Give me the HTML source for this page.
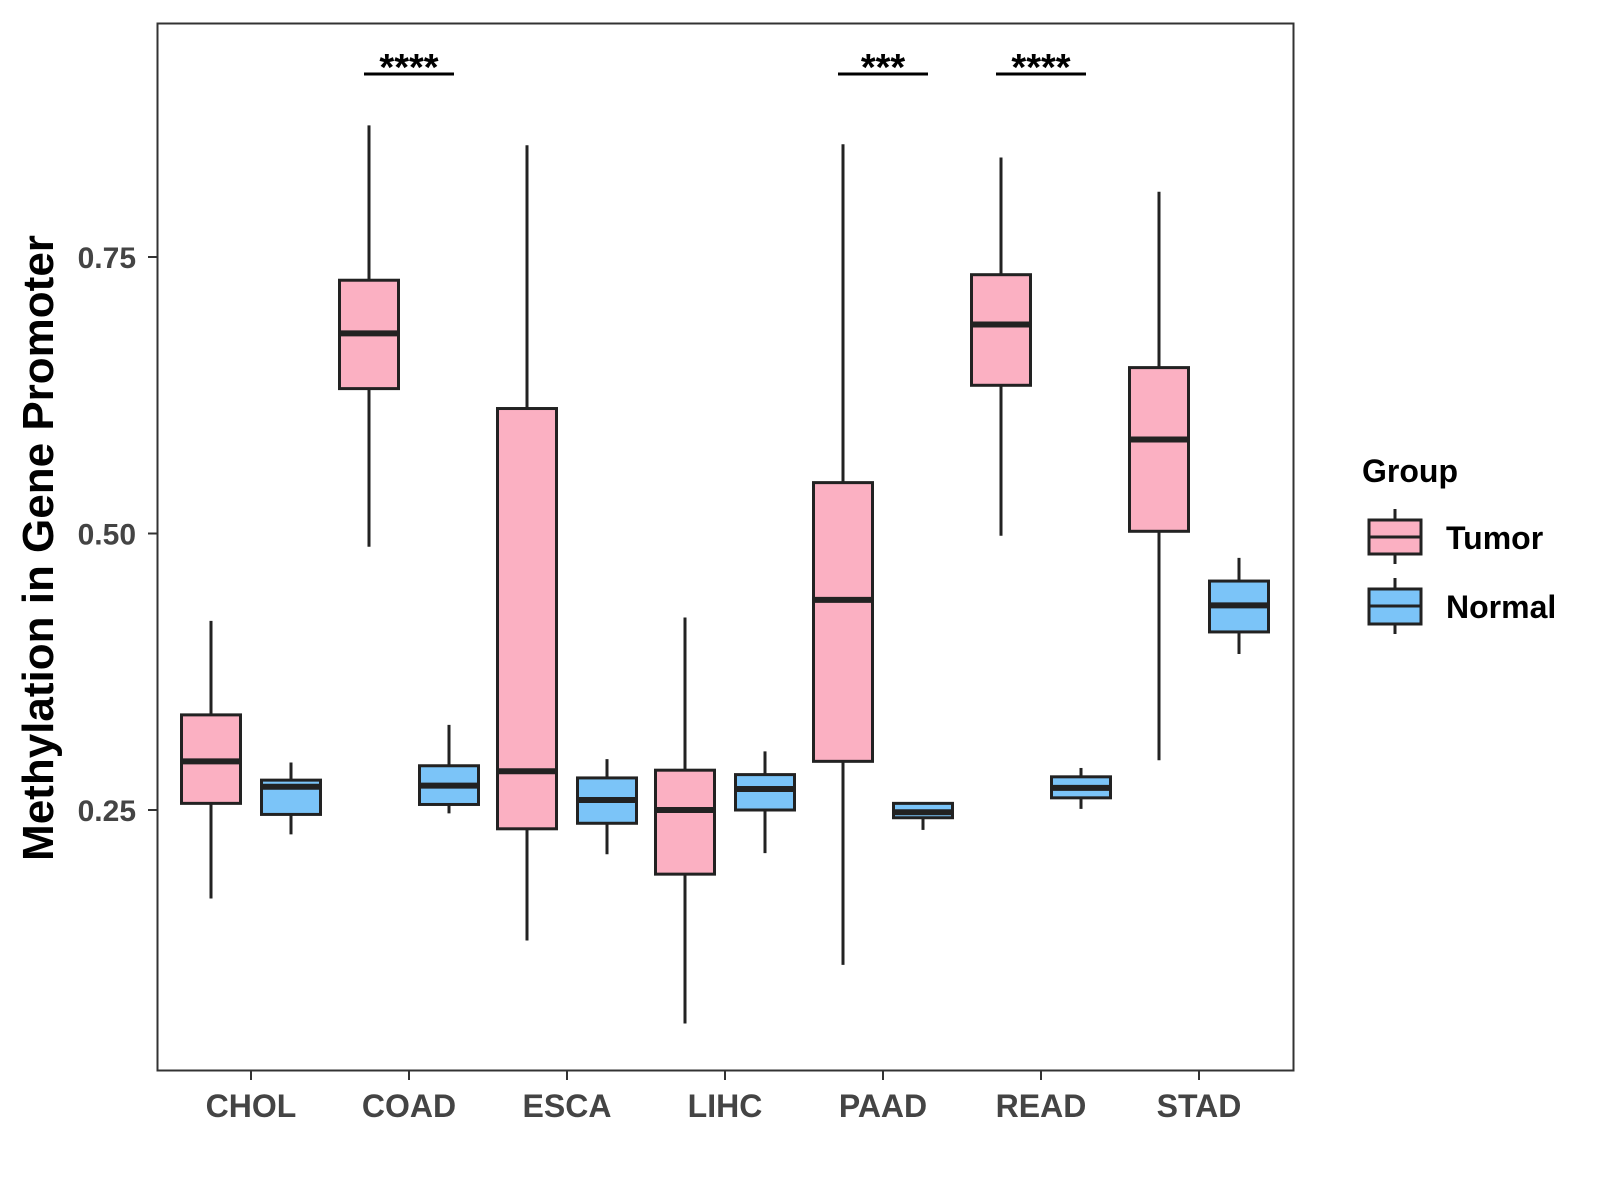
<!DOCTYPE html>
<html><head><meta charset="utf-8"><style>
html,body{margin:0;padding:0;background:#fff;}
svg{display:block;font-family:"Liberation Sans",Arial,sans-serif;}
</style></head><body>
<svg id="chart" width="1600" height="1200" viewBox="0 0 1600 1200">
<rect x="0" y="0" width="1600" height="1200" fill="#fff"/>
<g id="plot"></g>
<rect x="157.5" y="23.5" width="1136" height="1047" fill="none" stroke="#333" stroke-width="2"/>
<text transform="translate(53,548) rotate(-90)" text-anchor="middle" font-size="44" font-weight="bold" fill="#000">Methylation in Gene Promoter</text>
<g>
<text x="1362" y="482" font-size="32" font-weight="bold" fill="#000">Group</text>
<g>
<line x1="1395" y1="509" x2="1395" y2="564" stroke="#222" stroke-width="3"/>
<rect x="1369" y="520" width="52" height="34" fill="#FBB0C2" stroke="#222" stroke-width="3"/>
<line x1="1369" y1="537" x2="1421" y2="537" stroke="#222" stroke-width="3"/>
<text x="1446" y="549" font-size="32" font-weight="bold" fill="#000">Tumor</text>
</g>
<g>
<line x1="1395" y1="578" x2="1395" y2="634" stroke="#222" stroke-width="3"/>
<rect x="1369" y="589" width="52" height="35" fill="#7BC4F8" stroke="#222" stroke-width="3"/>
<line x1="1369" y1="606" x2="1421" y2="606" stroke="#222" stroke-width="3"/>
<text x="1446" y="618" font-size="32" font-weight="bold" fill="#000">Normal</text>
</g>
</g>
</svg>
<script>
const categories = ["CHOL","COAD","ESCA","LIHC","PAAD","READ","STAD"];
// [lowWhisker, q1, median, q3, highWhisker]
const tumorStats = [
 [0.170,0.256,0.294,0.336,0.421],
 [0.488,0.631,0.681,0.729,0.869],
 [0.132,0.233,0.285,0.613,0.851],
 [0.057,0.192,0.250,0.286,0.424],
 [0.110,0.294,0.440,0.546,0.852],
 [0.498,0.634,0.689,0.734,0.840],
 [0.295,0.502,0.585,0.650,0.809]
];
const normalStats = [
 [0.228,0.246,0.271,0.277,0.293],
 [0.247,0.255,0.272,0.290,0.327],
 [0.210,0.238,0.259,0.279,0.296],
 [0.211,0.250,0.269,0.282,0.303],
 [0.232,0.243,0.248,0.256,0.256],
 [0.251,0.261,0.270,0.280,0.288],
 [0.391,0.411,0.435,0.457,0.478]
];
const yTicks = [0.25,0.50,0.75];
const yTickLabels = ["0.25","0.50","0.75"];
const sigCategories = ["COAD","PAAD","READ"];
const sigLabels = ["****","***","****"];

const NS="http://www.w3.org/2000/svg";
const plot=document.getElementById('plot');
function y(v){return 810-(v-0.25)*1106;}
function x(i){return 251+i*158;}
function mk(tag,attrs,parent){const e=document.createElementNS(NS,tag);for(const k in attrs)e.setAttribute(k,attrs[k]);(parent||plot).appendChild(e);return e;}

yTicks.forEach((t,i)=>{
  const g=mk('g',{});
  
  
  mk('line',{x1:148,x2:157,y1:y(t),y2:y(t),stroke:'#333','stroke-width':2},g);
  const tx=mk('text',{x:136,y:y(t)+11,'text-anchor':'end','font-size':30,'font-weight':'bold',fill:'#444'},g);
  tx.textContent=yTickLabels[i];
});
categories.forEach((c,i)=>{
  const g=mk('g',{});
  
  
  mk('line',{x1:x(i),x2:x(i),y1:1071,y2:1080,stroke:'#333','stroke-width':2},g);
  const tx=mk('text',{x:x(i),y:1117,'text-anchor':'middle','font-size':32,'font-weight':'bold',fill:'#444'},g);
  tx.textContent=c;
});
function box(cx,s,fill,name){
  const g=mk('g',{});
  
  
  const w=59;
  mk('line',{x1:cx,x2:cx,y1:y(s[4]),y2:y(s[0]),stroke:'#222','stroke-width':3},g);
  mk('rect',{x:cx-w/2,y:y(s[3]),width:w,height:Math.max(1,y(s[1])-y(s[3])),fill:fill,stroke:'#222','stroke-width':3},g);
  mk('line',{x1:cx-w/2,x2:cx+w/2,y1:y(s[2]),y2:y(s[2]),stroke:'#222','stroke-width':6},g);
}
categories.forEach((c,i)=>{
  box(x(i)-40,tumorStats[i],'#FBB0C2','box-tumor-'+c.toLowerCase());
  box(x(i)+40,normalStats[i],'#7BC4F8','box-normal-'+c.toLowerCase());
});
sigCategories.forEach((c,j)=>{
  const i=categories.indexOf(c);
  const g=mk('g',{});
  
  
  mk('line',{x1:x(i)-45,x2:x(i)+45,y1:74,y2:74,stroke:'#000','stroke-width':3},g);
  const tx=mk('text',{x:x(i),y:80,'text-anchor':'middle','font-size':38,'font-weight':'bold',fill:'#000'},g);
  tx.textContent=sigLabels[j];
});
</script>
</body></html>
